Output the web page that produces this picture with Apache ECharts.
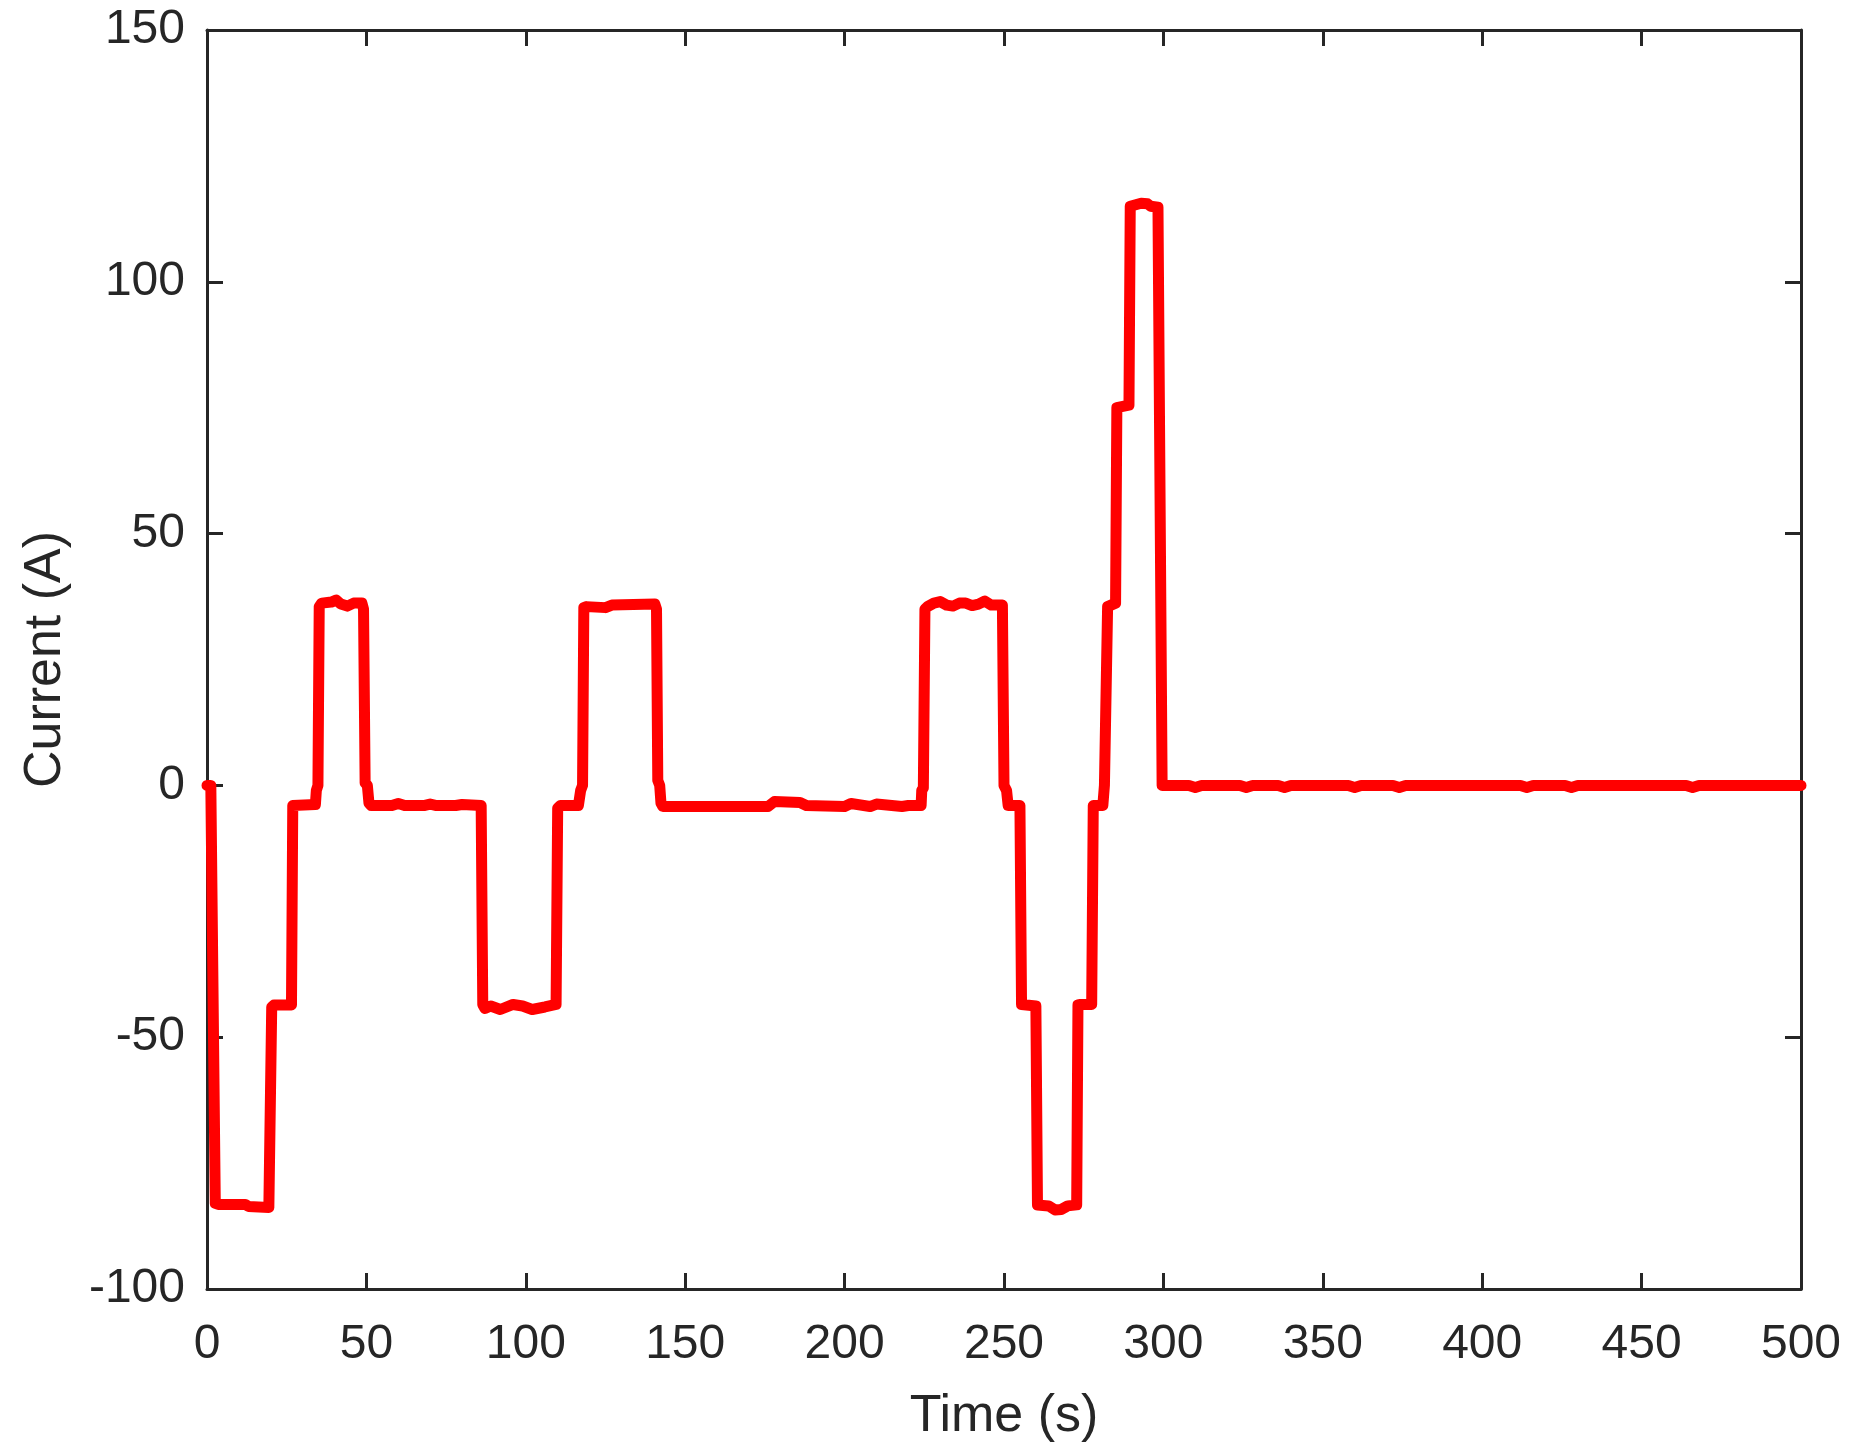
<!DOCTYPE html>
<html>
<head>
<meta charset="utf-8">
<title>Current</title>
<script src="https://cdn.jsdelivr.net/npm/echarts@6/dist/echarts.min.js"></script>
<style>
html, body {
	margin: 0;
	padding: 0;
	background: #ffffff;
}
#chart {
	width: 1854px;
	height: 1453px;
}
</style>
</head>
<body>
<div id="chart"></div>
<script>
	// 时间 (s), ten points per row, rows match currentData
	var timeData = [
		0, 1.2, 2.6, 3.5, 12, 13, 19.4, 19.8, 20.3, 21,
		26.5, 26.9, 27.5, 34, 34.3, 34.8, 35.2, 36, 39, 40.5,
		42, 44, 46, 48.6, 49.1, 49.6, 50.3, 50.8, 51.5, 58,
		60, 62, 68, 70, 72, 78, 80, 86, 86.5, 87.2,
		89, 92, 96, 99, 102, 106, 109.5, 110, 110.8, 116.5,
		117.2, 117.8, 118.2, 119, 125, 127, 140.5, 141, 141.4, 142,
		142.4, 143, 160, 176, 178, 186, 188, 200, 202, 208,
		210, 218, 220, 224, 224.2, 224.7, 225.2, 226, 228, 230,
		232, 234, 236, 238, 240, 242, 244, 246, 249.5, 250,
		250.8, 251.3, 255, 255.5, 256, 260, 260.5, 261, 264, 266,
		268, 270, 272.8, 273.2, 274, 277.5, 278, 278.6, 281, 281.5,
		282, 282.5, 285, 285.4, 286, 289.2, 289.6, 290.2, 293, 295,
		296, 298.3, 298.9, 299.6, 300.5, 308, 310, 312, 324, 326,
		328, 336, 338, 340, 358, 360, 362, 372, 374, 376,
		412, 414, 416, 426, 428, 430, 464, 466, 468, 500
	];

	// 电流 (A)
	var currentData = [
		0, 0, -83, -83.2, -83.2, -83.6, -83.8, -83.8, -44, -43.6,
		-43.6, -4, -3.8, -3.8, -1, 0, 35.5, 36.2, 36.4, 36.8,
		36, 35.6, 36.2, 36.2, 35, 0.5, 0, -3.5, -4, -4,
		-3.6, -4, -4, -3.7, -4, -4, -3.8, -4, -43.5, -44.3,
		-43.8, -44.5, -43.5, -43.8, -44.5, -44, -43.5, -4.5, -4, -4,
		-1, 0, 35.3, 35.5, 35.3, 35.8, 36, 35, 1, 0,
		-3.5, -4.2, -4.2, -4.2, -3.2, -3.4, -4, -4.2, -3.6, -4.2,
		-3.7, -4.2, -4, -4, -1, -0.5, 35, 35.5, 36.2, 36.5,
		35.8, 35.6, 36.2, 36.2, 35.7, 36, 36.6, 35.8, 35.8, 0,
		-1, -4, -4, -43.5, -43.6, -43.8, -83.3, -83.3, -83.5, -84.3,
		-84.2, -83.5, -83.3, -43.6, -43.5, -43.5, -4, -4, -4, 0,
		0.3, 35.5, 36.2, 75, 75.2, 75.5, 115, 115.2, 115.6, 115.5,
		115, 114.8, 114.5, 0, 0, 0, -0.4, 0, 0, -0.4,
		0, 0, -0.4, 0, 0, -0.4, 0, 0, -0.4, 0,
		0, -0.4, 0, 0, -0.4, 0, 0, -0.4, 0, 0
	];

	var xMin = 0, xMax = 500, xStep = 50;
	var yMin = -100, yMax = 150, yStep = 50;

	var lineData = [];
	for (var i = 0; i < timeData.length; i++) {
		lineData.push([ timeData[i], currentData[i] ]);
	}

	var axisColor = '#262626';
	var fontFamily = '"Liberation Sans", Arial, Helvetica, sans-serif';

	function buildAxis(min, max, step, position, showLabel, name, nameGap, labelMargin) {
		return {
			type : 'value',
			position : position,
			min : min,
			max : max,
			interval : step,
			name : name,
			nameLocation : 'middle',
			nameGap : nameGap,
			nameTextStyle : {
				color : axisColor,
				fontSize : 52,
				fontFamily : fontFamily
			},
			axisLine : {
				show : true,
				onZero : false,
				lineStyle : {
					color : axisColor,
					width : 3
				}
			},
			axisTick : {
				show : true,
				inside : true,
				length : 16,
				lineStyle : {
					color : axisColor,
					width : 3
				}
			},
			axisLabel : {
				show : showLabel,
				color : axisColor,
				fontSize : 48,
				fontFamily : fontFamily,
				margin : labelMargin
			},
			splitLine : {
				show : false
			}
		};
	}

	var chart = echarts.init(document.getElementById('chart'), null, {
		renderer : 'canvas'
	});

	var options = {
		animation : false,
		backgroundColor : '#ffffff',
		grid : {
			left : 207,
			top : 30,
			right : 53,
			bottom : 164,
			containLabel : false
		},
		xAxis : [ buildAxis(xMin, xMax, xStep, 'bottom', true, 'Time (s)', 102, 32), buildAxis(xMin, xMax, xStep, 'top', false, '', 0, 8) ],
		yAxis : [ buildAxis(yMin, yMax, yStep, 'left', true, 'Current (A)', 135, 22), buildAxis(yMin, yMax, yStep, 'right', false, '', 0, 8) ],
		series : [ {
			type : 'line',
			xAxisIndex : 0,
			yAxisIndex : 0,
			data : lineData,
			showSymbol : false,
			symbol : 'none',
			lineStyle : {
				color : '#ff0000',
				width : 11,
				join : 'round',
				cap : 'round'
			}
		} ]
	};

	chart.setOption(options);
</script>
</body>
</html>
